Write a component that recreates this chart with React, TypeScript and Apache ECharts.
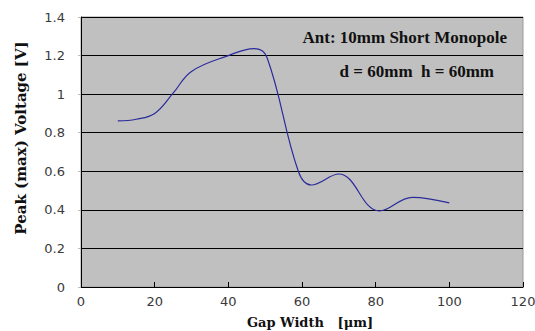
import React, { useEffect, useRef } from "react";
import * as echarts from "echarts";

const gapWidth = [10, 15, 20, 25, 30, 40, 47, 50.5, 59, 62.5, 70, 81, 90, 100];
const peakVoltage = [0.861, 0.87, 0.9, 1.005, 1.118, 1.2, 1.236, 1.19, 0.6, 0.529, 0.586, 0.394, 0.465, 0.436];
const annotations = ["Ant: 10mm Short Monopole", "d = 60mm  h = 60mm"];
const xTitle = "Gap Width   [μm]";
const yTitle = "Peak (max) Voltage [V]";

export default function App() {
  const ref = useRef<HTMLDivElement>(null);
  useEffect(() => {
    if (!ref.current) return;
    const chart = echarts.init(ref.current, null, { renderer: "svg" });
    const serif = "Liberation Serif";
    const titleFont = "DejaVu Serif";
    const sans = "DejaVu Sans";
    chart.setOption({
      animation: false,
      backgroundColor: "#ffffff",
      grid: {
        left: 81,
        right: 12,
        top: 17,
        bottom: 44,
        outerBoundsMode: "none",
        containLabel: false,
        show: true,
        backgroundColor: "#c0c0c0",
        borderColor: "#9a9a9a",
        borderWidth: 1,
      },
      xAxis: {
        type: "value",
        min: 0,
        max: 120,
        interval: 20,
        axisLine: { show: true, lineStyle: { color: "#000", width: 1 } },
        axisTick: { show: true, inside: true, length: 5, lineStyle: { color: "#000" } },
        axisLabel: { fontFamily: sans, fontSize: 13, color: "#3a3a3a", margin: 8 },
        splitLine: { show: false },
      },
      yAxis: {
        type: "value",
        min: 0,
        max: 1.4,
        interval: 0.2,
        axisLine: { show: true, lineStyle: { color: "#000", width: 1 } },
        axisTick: { show: true, length: 3, lineStyle: { color: "#bbb" } },
        axisLabel: { fontFamily: sans, fontSize: 13, color: "#3a3a3a", margin: 16 },
        splitLine: { show: true, lineStyle: { color: "#000", width: 1 } },
      },
      graphic: [
        {
          type: "text",
          right: 28,
          top: 29,
          style: { text: annotations[0], fontFamily: serif, fontWeight: "bold", fontSize: 17, fill: "#111" },
        },
        {
          type: "text",
          right: 41,
          top: 63,
          style: { text: annotations[1], fontFamily: serif, fontWeight: "bold", fontSize: 17, fill: "#111" },
        },
        {
          type: "text",
          x: 310,
          y: 322,
          style: {
            text: xTitle,
            fontFamily: titleFont,
            fontWeight: "bold",
            fontSize: 13,
            fill: "#111",
            align: "center",
            verticalAlign: "middle",
          },
        },
        {
          type: "text",
          x: 21,
          y: 138,
          rotation: Math.PI / 2,
          style: {
            text: yTitle,
            fontFamily: titleFont,
            fontWeight: "bold",
            fontSize: 15,
            fill: "#111",
            align: "center",
            verticalAlign: "middle",
          },
        },
      ],
      series: [
        {
          type: "line",
          data: gapWidth.map((x, i) => [x, peakVoltage[i]]),
          smooth: 0.4,
          showSymbol: false,
          lineStyle: { color: "#2b2b9c", width: 1.2 },
        },
      ],
    });
    return () => chart.dispose();
  }, []);
  return <div ref={ref} style={{ width: 535, height: 331, position: "absolute", left: 0, top: 0 }} />;
}
